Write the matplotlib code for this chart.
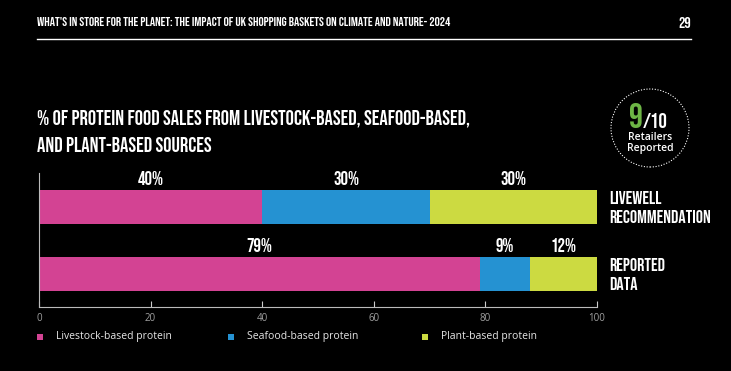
import matplotlib.pyplot as plt
from matplotlib.patches import Ellipse, Rectangle
import numpy as np

# data
rows = ["LIVEWELL\nRECOMMENDATION", "REPORTED\nDATA"]
livestock = [40, 79]
seafood = [30, 9]
plant = [30, 12]
series_names = ["Livestock-based protein", "Seafood-based protein", "Plant-based protein"]
colors = ["#D34393", "#2592D2", "#CCDA41"]
ticks = [0, 20, 40, 60, 80, 100]

COND = ["Saira Extra Condensed", "Bebas Neue", "Antonio", "Oswald", "Fira Sans Extra Condensed", "DejaVu Sans"]
BODY = ["Open Sans", "DejaVu Sans"]
W, H = 731, 371

fig = plt.figure(figsize=(W / 100, H / 100), dpi=100, facecolor="black")
renderer = fig.canvas.get_renderer()


def fx(px):
    return px / W


def fy(py):
    return 1 - py / H


def fit(txt, width_px):
    """scale the font so the text is width_px wide"""
    w = txt.get_window_extent(renderer).width
    txt.set_fontsize(txt.get_fontsize() * width_px / w)
    return txt.get_fontsize()


cond = dict(color="white", fontweight="semibold", family=COND)

# header
hd = fig.text(fx(37), fy(22), "WHAT'S IN STORE FOR THE PLANET: THE IMPACT OF UK SHOPPING BASKETS ON CLIMATE AND NATURE- 2024",
              fontsize=8, va="center", ha="left", **cond)
fit(hd, 420)
fig.text(fx(691), fy(22), "29", fontsize=hd.get_fontsize() * 1.2, va="center", ha="right", **cond)
fig.add_artist(plt.Line2D([fx(37), fx(691)], [fy(39), fy(39)], color="white", lw=1))

# title
t1 = fig.text(fx(37), fy(118), "% OF PROTEIN FOOD SALES FROM LIVESTOCK-BASED, SEAFOOD-BASED,",
              fontsize=14, va="center", ha="left", **cond)
fit(t1, 430)
fig.text(fx(37), fy(144), "AND PLANT-BASED SOURCES", fontsize=t1.get_fontsize(), va="center", ha="left", **cond)

# badge
fig.add_artist(Ellipse((fx(650), fy(128)), width=78 / W, height=78 / H, transform=fig.transFigure,
                       fill=False, ec="white", ls=(0, (1, 1.5)), lw=0.8))
n9 = fig.text(fx(643), fy(128), "9", color="#6DB545", fontsize=24, fontweight="semibold", family=COND,
              va="baseline", ha="right")
fit(n9, 14)
n10 = fig.text(fx(643), fy(128), "/10", fontsize=15, va="baseline", ha="left", **cond)
fit(n10, 25)
fig.text(fx(650), fy(137.5), "Retailers", color="white", fontsize=7.5, fontweight="semibold",
         family=BODY, va="center", ha="center")
fig.text(fx(650), fy(148.5), "Reported", color="white", fontsize=7.5, fontweight="semibold",
         family=BODY, va="center", ha="center")

# bars
ax = fig.add_axes([fx(39), fy(307), fx(597) - fx(39), 134 / H])
ax.set_facecolor("black")
ypos = np.array([1, 0])
bh = 0.507
probe = fig.text(0, 0, "40%", fontsize=12, **cond)
lab_size = fit(probe, 26)
probe.remove()
probe = fig.text(0, 0, "RECOMMENDATION", fontsize=12, **cond)
row_size = fit(probe, 101)
probe.remove()

left = np.zeros(len(rows))
for vals, c in zip([livestock, seafood, plant], colors):
    vals = np.array(vals)
    ax.barh(ypos, vals, left=left, height=bh, color=c, edgecolor="none")
    for y, l, v in zip(ypos, left, vals):
        ax.annotate(f"{v}%", (l + v / 2, y + bh / 2), xytext=(0, 3.5), textcoords="offset points",
                    ha="center", va="bottom", fontsize=lab_size, **cond)
    left = left + vals

for y, r in zip(ypos, rows):
    ax.annotate(r, (100, y), xytext=(9, 0), textcoords="offset points", ha="left", va="center",
                fontsize=row_size, linespacing=1.5, annotation_clip=False, **cond)

ax.set_xlim(0, 100)
ax.set_ylim(-0.4925, 1.507)
ax.set_yticks([])
ax.set_xticks(ticks)
ax.tick_params(axis="x", direction="in", length=4, color="#cccccc", labelcolor="#a0a0a0",
               labelsize=7, pad=4)
for lab in ax.get_xticklabels():
    lab.set_family(BODY)
for s in ["top", "right"]:
    ax.spines[s].set_visible(False)
for s in ["left", "bottom"]:
    ax.spines[s].set_color("#bbbbbb")
    ax.spines[s].set_linestyle((0, (1, 1)))
    ax.spines[s].set_linewidth(0.8)

# legend
leg_x = [37, 228, 422]
for x, c, n in zip(leg_x, colors, series_names):
    fig.add_artist(Rectangle((fx(x), fy(340)), 6 / W, 6 / H, transform=fig.transFigure,
                             color=c, ec="none"))
    fig.text(fx(x + 19), fy(337), n, color="#e6e6e6", fontsize=7.5, family=BODY, va="center", ha="left")

fig.savefig("out.png", dpi=100, facecolor="black")
